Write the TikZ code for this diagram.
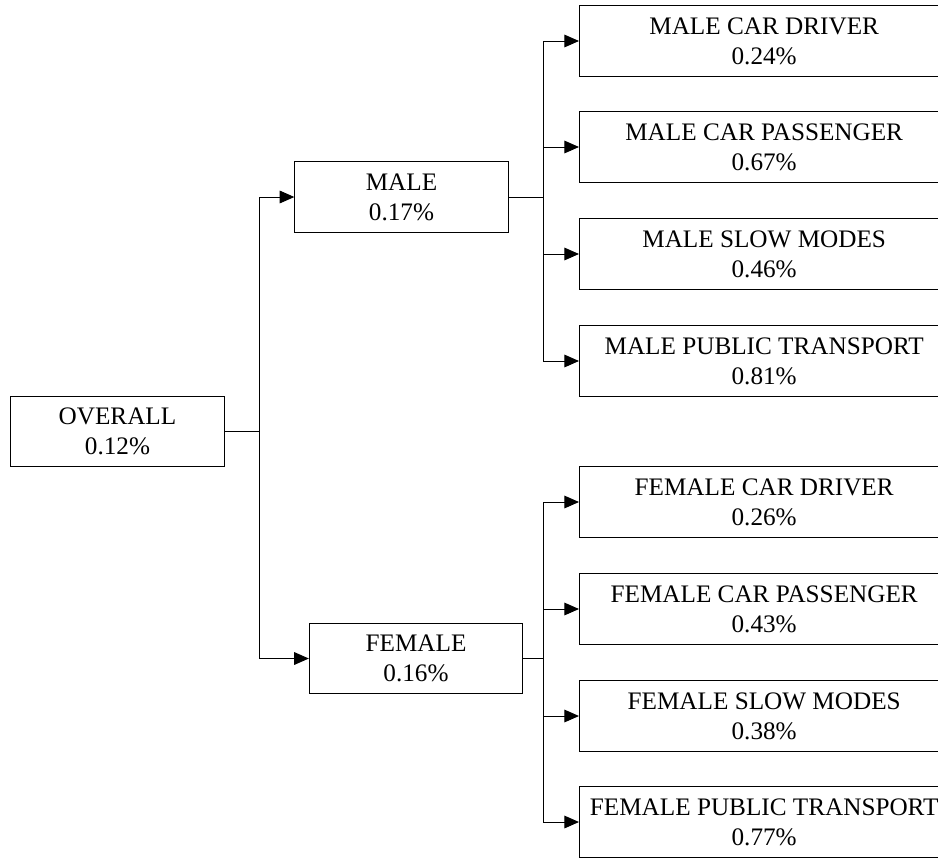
\documentclass[tikz,border=0pt]{standalone}
\usepackage{fontspec}
\setmainfont{Liberation Serif}
\usepackage{tikz}
\usetikzlibrary{arrows.meta}
\tikzset{
    tree-box/.style = {draw=black, fill=white, line width=0.75pt, rectangle, align=center, inner sep=0pt, minimum height=53pt, font=\fontsize{18.9}{22.5}\selectfont},
    root-box/.style = {tree-box, minimum width=160pt},
    leaf-box/.style = {tree-box, minimum width=277pt, anchor=west},
    tree-link/.style = {draw=black, line width=0.75pt},
    tree-arrow/.style = {tree-link, -{Triangle[length=11pt, width=9.5pt]}},
}

\begin{document}
\begin{tikzpicture}[x=0.75pt, y=-0.75pt]
\useasboundingbox (0,0) rectangle (938,858);

% first level
\node [root-box] (overall) at (117.5,431.5) {OVERALL\\0.12\%};
\node [root-box] (male) at (401.5,197) {MALE\\0.17\%};
\node [root-box] (female) at (416,658.5) {FEMALE\\0.16\%};

% male modes
\node [leaf-box] (mcd) at (579,41) {MALE CAR DRIVER\\0.24\%};
\node [leaf-box] (mcp) at (579,147) {MALE CAR PASSENGER\\0.67\%};
\node [leaf-box] (msm) at (579,254) {MALE SLOW MODES\\0.46\%};
\node [leaf-box] (mpt) at (579,361) {MALE PUBLIC TRANSPORT\\0.81\%};

% female modes
\node [leaf-box] (fcd) at (579,502) {FEMALE CAR DRIVER\\0.26\%};
\node [leaf-box] (fcp) at (579,609) {FEMALE CAR PASSENGER\\0.43\%};
\node [leaf-box] (fsm) at (579,716) {FEMALE SLOW MODES\\0.38\%};
\node [leaf-box] (fpt) at (579,822) {FEMALE PUBLIC TRANSPORT\\0.77\%};

% branching points
\coordinate (rootbus) at (259,431.5);
\coordinate (malebus) at (543,197);
\coordinate (femalebus) at (543,658.5);

\draw [tree-link] (overall.east) -- (rootbus);
\draw [tree-arrow] (rootbus) |- (male.west);
\draw [tree-arrow] (rootbus) |- (female.west);

\draw [tree-link] (male.east) -- (malebus);
\draw [tree-arrow] (malebus) |- (mcd.west);
\draw [tree-arrow] (malebus) |- (mcp.west);
\draw [tree-arrow] (malebus) |- (msm.west);
\draw [tree-arrow] (malebus) |- (mpt.west);

\draw [tree-link] (female.east) -- (femalebus);
\draw [tree-arrow] (femalebus) |- (fcd.west);
\draw [tree-arrow] (femalebus) |- (fcp.west);
\draw [tree-arrow] (femalebus) |- (fsm.west);
\draw [tree-arrow] (femalebus) |- (fpt.west);
\end{tikzpicture}
\end{document}
